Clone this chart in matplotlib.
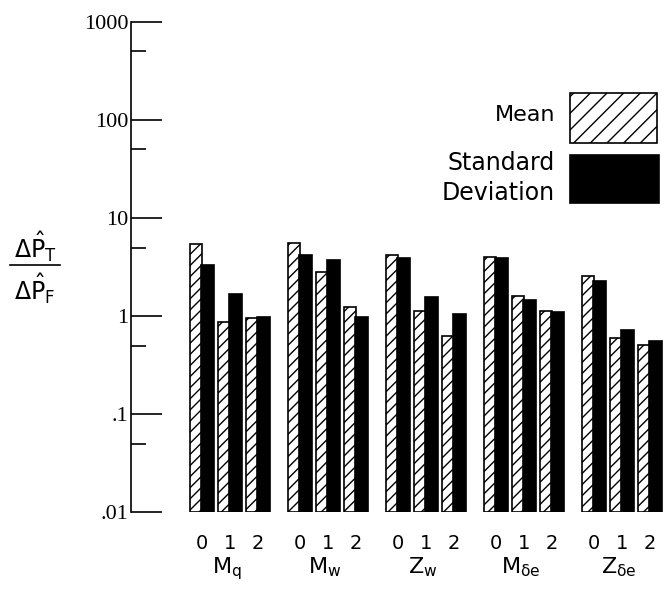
#!/usr/bin/env python3

import matplotlib

matplotlib.use("Agg")

import matplotlib.pyplot as plt
import numpy as np
from matplotlib.lines import Line2D
from matplotlib.patches import Rectangle

PARAMETERS = [r"$\mathregular{M_q}$", r"$\mathregular{M_w}$", r"$\mathregular{Z_w}$",
              r"$\mathregular{M_{\delta e}}$", r"$\mathregular{Z_{\delta e}}$"]
LEVELS = ["0", "1", "2"]

# ratio of predicted change, one row per parameter, one column per level
MEAN = [
    [5.4, 0.86, 0.95],
    [5.6, 2.8, 1.23],
    [4.2, 1.12, 0.63],
    [4.0, 1.6, 1.12],
    [2.55, 0.60, 0.51],
]
STD_DEV = [
    [3.3, 1.68, 0.98],
    [4.2, 3.7, 0.97],
    [3.9, 1.57, 1.06],
    [3.9, 1.45, 1.11],
    [2.25, 0.72, 0.56],
]

Y_TICKS = [0.01, 0.1, 1, 10, 100, 1000]
Y_TICK_LABELS = [".01", ".1", "1", "10", "100", "1000"]
Y_MINOR = [0.05, 0.5, 5, 50, 500]

BASE = 0.01
GROUP_STEP = 3.5
BAR_WIDTH = 0.41


def main() -> None:
    plt.rcParams["hatch.linewidth"] = 1.0

    fig = plt.figure(figsize=(6.65, 5.99), dpi=100)
    ax = fig.add_axes([0.197, 0.1452, 0.803, 0.8181])

    mean = np.array(MEAN)
    std = np.array(STD_DEV)
    centers = np.array([[g * GROUP_STEP + s for s in range(len(LEVELS))]
                        for g in range(len(PARAMETERS))])

    ax.set_yscale("log")
    ax.bar(
        centers.ravel() - BAR_WIDTH / 2,
        mean.ravel() - BASE,
        bottom=BASE,
        width=BAR_WIDTH,
        facecolor="white",
        edgecolor="black",
        hatch="///",
        linewidth=1.2,
    )
    ax.bar(
        centers.ravel() + BAR_WIDTH / 2,
        std.ravel() - BASE,
        bottom=BASE,
        width=BAR_WIDTH + 0.03,
        facecolor="black",
        edgecolor="black",
        linewidth=1.2,
    )

    ax.set_ylim(0.01, 1000)
    ax.set_xlim(-2.525, 16.55)

    ax.set_yticks(Y_TICKS, Y_TICK_LABELS, family="Liberation Serif", fontsize=16)
    ax.set_yticks(Y_MINOR, minor=True)
    ax.yaxis.set_minor_formatter(matplotlib.ticker.NullFormatter())
    ax.tick_params(axis="y", which="major", direction="in", length=22, width=1.2, pad=2)
    ax.tick_params(axis="y", which="minor", direction="in", length=11, width=1.2)

    ax.set_xticks(centers.ravel(), LEVELS * len(PARAMETERS), fontsize=14)
    ax.tick_params(axis="x", length=0, pad=16)

    for side in ["top", "right", "bottom"]:
        ax.spines[side].set_visible(False)
    ax.spines["left"].set_linewidth(1.2)

    for g, label in enumerate(PARAMETERS):
        ax.text(centers[g, 1] - 0.1, -0.125, label, transform=ax.get_xaxis_transform(),
                ha="center", va="baseline", fontsize=16)

    # legend drawn by hand: label text to the left of each swatch
    fig.patches.append(Rectangle((570 / 665, 1 - 143 / 599), 87 / 665, 50 / 599,
                                 transform=fig.transFigure, facecolor="white",
                                 edgecolor="black", hatch="//", linewidth=1.2))
    fig.patches.append(Rectangle((570 / 665, 1 - 203 / 599), 89 / 665, 48 / 599,
                                 transform=fig.transFigure, facecolor="black",
                                 edgecolor="black", linewidth=1.2))
    fig.text(555 / 665, 1 - 115 / 599, "Mean", ha="right", va="center", fontsize=16)
    fig.text(555 / 665, 1 - 163 / 599, "Standard", ha="right", va="center", fontsize=17)
    fig.text(555 / 665, 1 - 193 / 599, "Deviation", ha="right", va="center", fontsize=17)

    # y-axis label as a stacked fraction
    fig.text(35 / 665, 1 - 258 / 599, r"$\mathregular{\Delta\hat{P}_T}$",
             ha="center", va="baseline", fontsize=17)
    fig.add_artist(Line2D([10 / 665, 60 / 665], [1 - 265 / 599, 1 - 265 / 599],
                          transform=fig.transFigure, color="black", linewidth=1.2))
    fig.text(35 / 665, 1 - 300 / 599, r"$\mathregular{\Delta\hat{P}_F}$",
             ha="center", va="baseline", fontsize=17)

    fig.savefig("out.png", dpi=100)
    plt.close(fig)


if __name__ == "__main__":
    main()
